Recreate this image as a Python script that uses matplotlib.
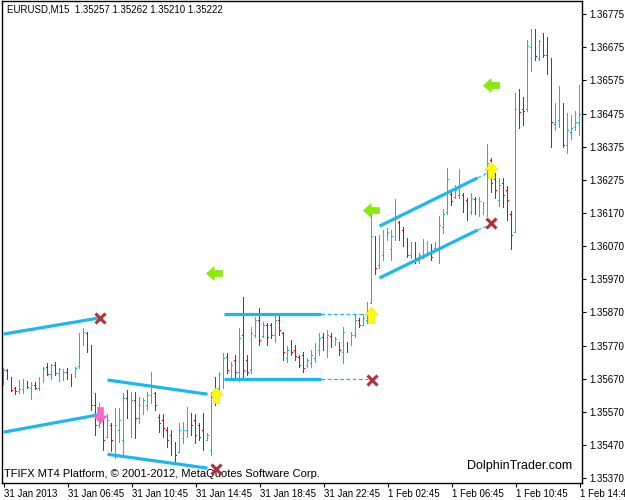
import numpy as np
import matplotlib
matplotlib.use("Agg")
import matplotlib.pyplot as plt
from matplotlib.path import Path

# ---------------- data (EURUSD M15 bars) ----------------
opens = [1.35667, 1.35697, 1.35673, 1.35642, 1.35633, 1.35639, 1.35661, 1.35642, 1.35651, 1.35642,
         1.35658, 1.35706, 1.35685, 1.35712, 1.35688, 1.35679, 1.35691, 1.35682, 1.35676, 1.35709,
         1.35776, 1.35809, 1.35770, 1.35591, 1.35530, 1.35551, 1.35494, 1.35530, 1.35470, 1.35515,
         1.35485, 1.35612, 1.35576, 1.35606, 1.35551, 1.35576, 1.35591, 1.35621, 1.35627, 1.35554,
         1.35545, 1.35515, 1.35500, 1.35470, 1.35448, 1.35491, 1.35515, 1.35567, 1.35545, 1.35530,
         1.35515, 1.35485, 1.35454, 1.35658, 1.35642, 1.35667, 1.35736, 1.35679, 1.35727, 1.35691,
         1.35803, 1.35727, 1.35697, 1.35803, 1.35848, 1.35800, 1.35833, 1.35833, 1.35803, 1.35848,
         1.35809, 1.35733, 1.35773, 1.35757, 1.35736, 1.35742, 1.35712, 1.35718, 1.35733, 1.35757,
         1.35797, 1.35764, 1.35800, 1.35776, 1.35779, 1.35751, 1.35779, 1.35773, 1.35803, 1.35848,
         1.35833, 1.35848, 1.35900, 1.36091, 1.36015, 1.36045, 1.36097, 1.36061, 1.36097, 1.36145,
         1.36121, 1.36091, 1.36045, 1.36073, 1.36030, 1.36042, 1.36070, 1.36070, 1.36064, 1.36061,
         1.36130, 1.36173, 1.36230, 1.36221, 1.36227, 1.36227, 1.36212, 1.36173, 1.36215, 1.36182,
         1.36176, 1.36182, 1.36333, 1.36273, 1.36212, 1.36263, 1.36242, 1.36167, 1.36115, 1.36491,
         1.36485, 1.36485, 1.36673, 1.36703, 1.36642, 1.36697, 1.36651, 1.36612, 1.36442, 1.36454,
         1.36506, 1.36376, 1.36418, 1.36433, 1.36448]
highs = [1.35703, 1.35700, 1.35676, 1.35645, 1.35664, 1.35670, 1.35661, 1.35658, 1.35658, 1.35676,
         1.35706, 1.35718, 1.35715, 1.35721, 1.35703, 1.35700, 1.35703, 1.35685, 1.35706, 1.35809,
         1.35824, 1.35812, 1.35773, 1.35627, 1.35597, 1.35554, 1.35561, 1.35536, 1.35582, 1.35582,
         1.35627, 1.35636, 1.35630, 1.35630, 1.35615, 1.35612, 1.35630, 1.35691, 1.35630, 1.35561,
         1.35561, 1.35524, 1.35515, 1.35479, 1.35536, 1.35539, 1.35585, 1.35567, 1.35561, 1.35536,
         1.35567, 1.35506, 1.35630, 1.35676, 1.35691, 1.35748, 1.35748, 1.35721, 1.35742, 1.35824,
         1.35918, 1.35742, 1.35827, 1.35857, 1.35885, 1.35842, 1.35839, 1.35839, 1.35864, 1.35864,
         1.35812, 1.35767, 1.35788, 1.35773, 1.35742, 1.35751, 1.35733, 1.35757, 1.35779, 1.35809,
         1.35809, 1.35818, 1.35809, 1.35797, 1.35782, 1.35827, 1.35782, 1.35812, 1.35864, 1.35854,
         1.35864, 1.35903, 1.36167, 1.36103, 1.36106, 1.36121, 1.36127, 1.36121, 1.36215, 1.36148,
         1.36130, 1.36097, 1.36085, 1.36082, 1.36051, 1.36094, 1.36088, 1.36076, 1.36082, 1.36161,
         1.36182, 1.36309, 1.36236, 1.36257, 1.36306, 1.36233, 1.36218, 1.36233, 1.36221, 1.36221,
         1.36206, 1.36379, 1.36339, 1.36294, 1.36276, 1.36276, 1.36254, 1.36176, 1.36536, 1.36548,
         1.36524, 1.36694, 1.36730, 1.36730, 1.36694, 1.36718, 1.36703, 1.36642, 1.36506, 1.36557,
         1.36506, 1.36473, 1.36467, 1.36479, 1.36560]
lows = [1.35651, 1.35667, 1.35633, 1.35624, 1.35627, 1.35627, 1.35642, 1.35609, 1.35639, 1.35636,
        1.35658, 1.35682, 1.35667, 1.35682, 1.35661, 1.35664, 1.35667, 1.35648, 1.35676, 1.35703,
        1.35773, 1.35751, 1.35576, 1.35500, 1.35524, 1.35454, 1.35494, 1.35451, 1.35430, 1.35479,
        1.35439, 1.35551, 1.35494, 1.35491, 1.35536, 1.35561, 1.35576, 1.35597, 1.35576, 1.35509,
        1.35494, 1.35464, 1.35439, 1.35415, 1.35448, 1.35476, 1.35494, 1.35500, 1.35476, 1.35485,
        1.35454, 1.35485, 1.35439, 1.35591, 1.35636, 1.35642, 1.35688, 1.35673, 1.35667, 1.35661,
        1.35667, 1.35682, 1.35688, 1.35797, 1.35773, 1.35797, 1.35773, 1.35794, 1.35782, 1.35803,
        1.35727, 1.35721, 1.35742, 1.35727, 1.35706, 1.35691, 1.35706, 1.35706, 1.35721, 1.35742,
        1.35757, 1.35736, 1.35764, 1.35773, 1.35742, 1.35718, 1.35751, 1.35773, 1.35797, 1.35827,
        1.35833, 1.35839, 1.35900, 1.35988, 1.36006, 1.36030, 1.36091, 1.36030, 1.36091, 1.36091,
        1.36070, 1.36039, 1.36036, 1.36021, 1.36021, 1.36036, 1.36054, 1.36030, 1.36061, 1.36021,
        1.36112, 1.36167, 1.36197, 1.36218, 1.36218, 1.36173, 1.36151, 1.36167, 1.36167, 1.36161,
        1.36167, 1.36161, 1.36236, 1.36218, 1.36194, 1.36191, 1.36151, 1.36061, 1.36115, 1.36430,
        1.36439, 1.36479, 1.36600, 1.36636, 1.36636, 1.36645, 1.36591, 1.36370, 1.36424, 1.36433,
        1.36370, 1.36354, 1.36394, 1.36424, 1.36409]
closes = [1.35697, 1.35676, 1.35636, 1.35633, 1.35639, 1.35664, 1.35645, 1.35651, 1.35642, 1.35658,
          1.35703, 1.35685, 1.35712, 1.35688, 1.35700, 1.35691, 1.35682, 1.35670, 1.35703, 1.35776,
          1.35812, 1.35770, 1.35591, 1.35530, 1.35570, 1.35485, 1.35545, 1.35485, 1.35530, 1.35545,
          1.35612, 1.35576, 1.35606, 1.35551, 1.35591, 1.35606, 1.35621, 1.35651, 1.35591, 1.35536,
          1.35521, 1.35485, 1.35461, 1.35439, 1.35515, 1.35515, 1.35570, 1.35530, 1.35500, 1.35494,
          1.35470, 1.35500, 1.35615, 1.35621, 1.35685, 1.35733, 1.35697, 1.35712, 1.35691, 1.35794,
          1.35697, 1.35691, 1.35809, 1.35848, 1.35788, 1.35833, 1.35797, 1.35803, 1.35848, 1.35818,
          1.35751, 1.35757, 1.35751, 1.35739, 1.35712, 1.35703, 1.35727, 1.35742, 1.35767, 1.35794,
          1.35770, 1.35803, 1.35776, 1.35791, 1.35757, 1.35812, 1.35761, 1.35803, 1.35848, 1.35833,
          1.35854, 1.35891, 1.36103, 1.36006, 1.36082, 1.36091, 1.36115, 1.36103, 1.36197, 1.36097,
          1.36091, 1.36045, 1.36070, 1.36036, 1.36045, 1.36076, 1.36070, 1.36039, 1.36076, 1.36136,
          1.36167, 1.36273, 1.36209, 1.36242, 1.36288, 1.36194, 1.36176, 1.36218, 1.36182, 1.36209,
          1.36197, 1.36324, 1.36263, 1.36242, 1.36257, 1.36227, 1.36212, 1.36106, 1.36485, 1.36476,
          1.36479, 1.36676, 1.36706, 1.36648, 1.36691, 1.36651, 1.36606, 1.36448, 1.36491, 1.36515,
          1.36376, 1.36424, 1.36430, 1.36448, 1.36470]

time_labels = ["31 Jan 2013", "31 Jan 06:45", "31 Jan 10:45", "31 Jan 14:45", "31 Jan 18:45",
               "31 Jan 22:45", "1 Feb 02:45", "1 Feb 06:45", "1 Feb 10:45", "1 Feb 14:45"]
time_label_bars = [0, 16, 32, 48, 64, 80, 96, 112, 128, 144]
price_labels = ["1.35370", "1.35470", "1.35570", "1.35670", "1.35770", "1.35870", "1.35970",
                "1.36070", "1.36170", "1.36275", "1.36375", "1.36475", "1.36575", "1.36675", "1.36775"]

# channel lines: (bar0, price0, bar1, price1) solid ; dashed extensions
channel_solid = [
    (0, 1.35806, 23.5, 1.35854), (0, 1.35509, 23.5, 1.35561),
    (26, 1.35667, 51, 1.35624), (26, 1.35442, 51, 1.35400),
    (55, 1.35867, 79.25, 1.35867), (55, 1.35670, 79.25, 1.35670),
    (94, 1.36133, 118.5, 1.36279), (94, 1.35976, 118.5, 1.36121),
]
channel_dashed = [
    (79.25, 1.35867, 91, 1.35867), (79.25, 1.35670, 91, 1.35670),
    (118.5, 1.36279, 121, 1.36294), (118.5, 1.36121, 121, 1.36133),
]
cross_bars = [24, 53, 92, 121.75]
cross_prices = [1.35854, 1.35397, 1.35667, 1.36142]
up_bars = [53, 91.75, 121.75]
up_prices = [1.35621, 1.35864, 1.36303]
down_bars = [24]
down_prices = [1.35561]
left_bars = [52.5, 91.75, 121.75]
left_prices = [1.35991, 1.36182, 1.36560]

header = "EURUSD,M15  1.35257 1.35262 1.35210 1.35222"
footer = "TFIFX MT4 Platform, \u00a9 2001-2012, MetaQuotes Software Corp."
brand = "DolphinTrader.com"

# ---------------- drawing ----------------
plt.rcParams['font.family'] = ['Liberation Sans', 'DejaVu Sans']
BLUE = '#10b4f0'
RED = '#f00000'
GREEN = '#22ee22'
LINE = '#1ab8ee'

fig = plt.figure(figsize=(6.25, 5), dpi=100)
ax = fig.add_axes([2 / 625, 17 / 500, 580 / 625, 482 / 500])
YMIN, YMAX = 1.35355, 1.36815
ax.set_xlim(-0.375, 144.625)     # bar centres land on pixel centres
ax.set_ylim(YMIN, YMAX)
PX = (YMAX - YMIN) / 482.0       # one screen pixel in price units (style size)
PXX = 145.0 / 580.0              # one screen pixel in bar units

o = np.array(opens); h = np.array(highs); l = np.array(lows); c = np.array(closes)
idx = np.arange(len(o))
cols = np.where(c > o, BLUE, np.where(c < o, RED, GREEN))

kw = dict(linewidth=0, antialiased=False, zorder=2)
ax.bar(idx, h - l + PX, bottom=l - PX / 2, width=0.9 * PXX, color=cols, **kw)
ax.bar(idx - 1.0 * PXX, 0.9 * PX, bottom=o - 0.45 * PX, width=1.2 * PXX, color=cols, **kw)
ax.bar(idx + 1.0 * PXX, 0.9 * PX, bottom=c - 0.45 * PX, width=1.2 * PXX, color=cols, **kw)

for b0, p0, b1, p1 in channel_solid:
    ax.plot([b0, b1], [p0, p1], color=LINE, lw=2.3, solid_capstyle='butt', zorder=3)
for b0, p0, b1, p1 in channel_dashed:
    ax.plot([b0, b1], [p0, p1], color=LINE, lw=0.9, ls=(0, (3, 2)), zorder=3)

up_path = Path([(0, 1), (-0.85, 0.05), (-0.38, 0.05), (-0.38, -1), (0.38, -1), (0.38, 0.05), (0.85, 0.05), (0, 1)],
               [Path.MOVETO] + [Path.LINETO] * 6 + [Path.CLOSEPOLY])
down_path = Path([(x, -y) for x, y in up_path.vertices], up_path.codes)
left_path = Path([(-y, x) for x, y in up_path.vertices], up_path.codes)

ax.plot(up_bars, up_prices, ls='none', marker=up_path, ms=11.5, color='#ffff00', mec='#e8d800', mew=0.4, zorder=5)
ax.plot(down_bars, down_prices, ls='none', marker=down_path, ms=11.5, color='#ff66cc', mec='#ff55bb', mew=0.4, zorder=5)
ax.plot(left_bars, left_prices, ls='none', marker=left_path, ms=11.5, color='#88ee00', mec='#77dd00', mew=0.4, zorder=5)
ax.plot(cross_bars, cross_prices, ls='none', marker='x', ms=6.5, mew=2.2, color='#b0303c', zorder=5)

# axes styling
for s in ax.spines.values():
    s.set_color('black')
    s.set_linewidth(1.0)
ax.yaxis.tick_right()
ax.set_yticks(np.linspace(1.35370, 1.36775, 15))
ax.set_yticklabels(price_labels)
ax.set_xticks(time_label_bars)
ax.set_xticklabels(time_labels, ha='left')
ax.tick_params(axis='both', direction='out', length=3, width=0.8, labelsize=7, color='black')
ax.tick_params(axis='y', pad=2)
ax.tick_params(axis='x', pad=1.5)

ax.text(5 / 580, 0.983, header, transform=ax.transAxes, fontsize=7, ha='left', va='center')
ax.text(2 / 580, 0.018, footer, transform=ax.transAxes, fontsize=8, ha='left', va='center')
ax.text(570 / 580, 0.035, brand, transform=ax.transAxes, fontsize=9, ha='right', va='center')

fig.savefig('out.png', dpi=100, facecolor='white')
